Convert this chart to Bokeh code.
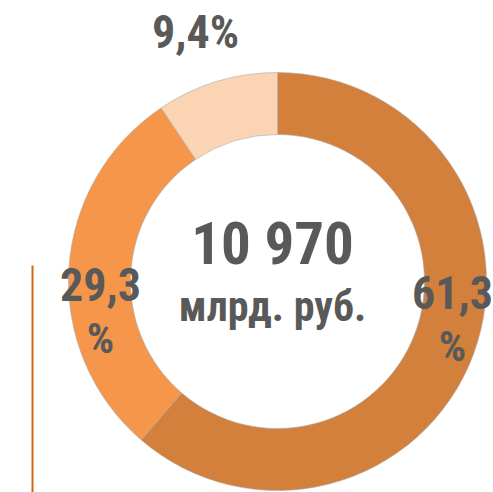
import math
from bokeh.plotting import figure
from bokeh.models import Range1d
from bokeh.core.properties import value
from bokeh.embed import file_html
from bokeh.resources import INLINE

# Data
categories = ["A", "B", "C"]
shares = [61.3, 29.3, 9.4]
colors = ["#D2803C", "#F6964A", "#FBD4B4"]
center_value = "10 970"
center_unit = "млрд. руб."
labels_top = ["61,3", "29,3", "9,4%"]
labels_bottom = ["%", "%", ""]

W, H = 493, 492
p = figure(width=W, height=H, output_backend="svg", toolbar_location=None,
           x_range=Range1d(0, W), y_range=Range1d(0, H),
           min_border=0)
p.axis.visible = False
p.grid.visible = False
p.outline_line_color = None
p.background_fill_color = "white"
p.border_fill_color = "white"

cx, cy = 277, 492 - 281
r_out, r_in = 209, 147

total = sum(shares)
cum = 0.0
starts, ends = [], []
for s in shares:
    starts.append(math.pi / 2 - 2 * math.pi * cum / total)
    cum += s
    ends.append(math.pi / 2 - 2 * math.pi * cum / total)

p.annular_wedge(x=[cx] * len(shares), y=[cy] * len(shares),
                inner_radius=r_in, outer_radius=r_out,
                start_angle=starts, end_angle=ends, direction="clock",
                fill_color=colors, line_color="#A8A8A8", line_width=0.6)

# left vertical line
p.segment(x0=[32], y0=[492 - 265], x1=[32], y1=[0], line_color="#D2690C", line_width=2)

font = value("Roboto Condensed, Liberation Sans")
txt_col = "#595959"

# label positions (page layout)
lab_x = [452, 100, 195]
lab_y1 = [492 - 292, 492 - 283.5, 492 - 31.5]
lab_y2 = [492 - 345.5, 492 - 337.5]
p.text(x=lab_x, y=lab_y1, text=labels_top, text_font=font, text_font_style="bold",
       text_font_size="46px", text_color=txt_col, text_align="center",
       text_baseline="middle")
p.text(x=lab_x[:2], y=lab_y2, text=labels_bottom[:2], text_font=font,
       text_font_style="bold", text_font_size="43px", text_color=txt_col,
       text_align="center", text_baseline="middle")

p.text(x=[272], y=[492 - 242.5], text=[center_value], text_font=font, text_font_style="bold",
       text_font_size="59px", text_color=txt_col, text_align="center",
       text_baseline="middle")
p.text(x=[272], y=[492 - 306], text=[center_unit], text_font=font, text_font_style="bold",
       text_font_size="42px", text_color=txt_col, text_align="center",
       text_baseline="middle")

open("out.html", "w").write(file_html(p, INLINE))
